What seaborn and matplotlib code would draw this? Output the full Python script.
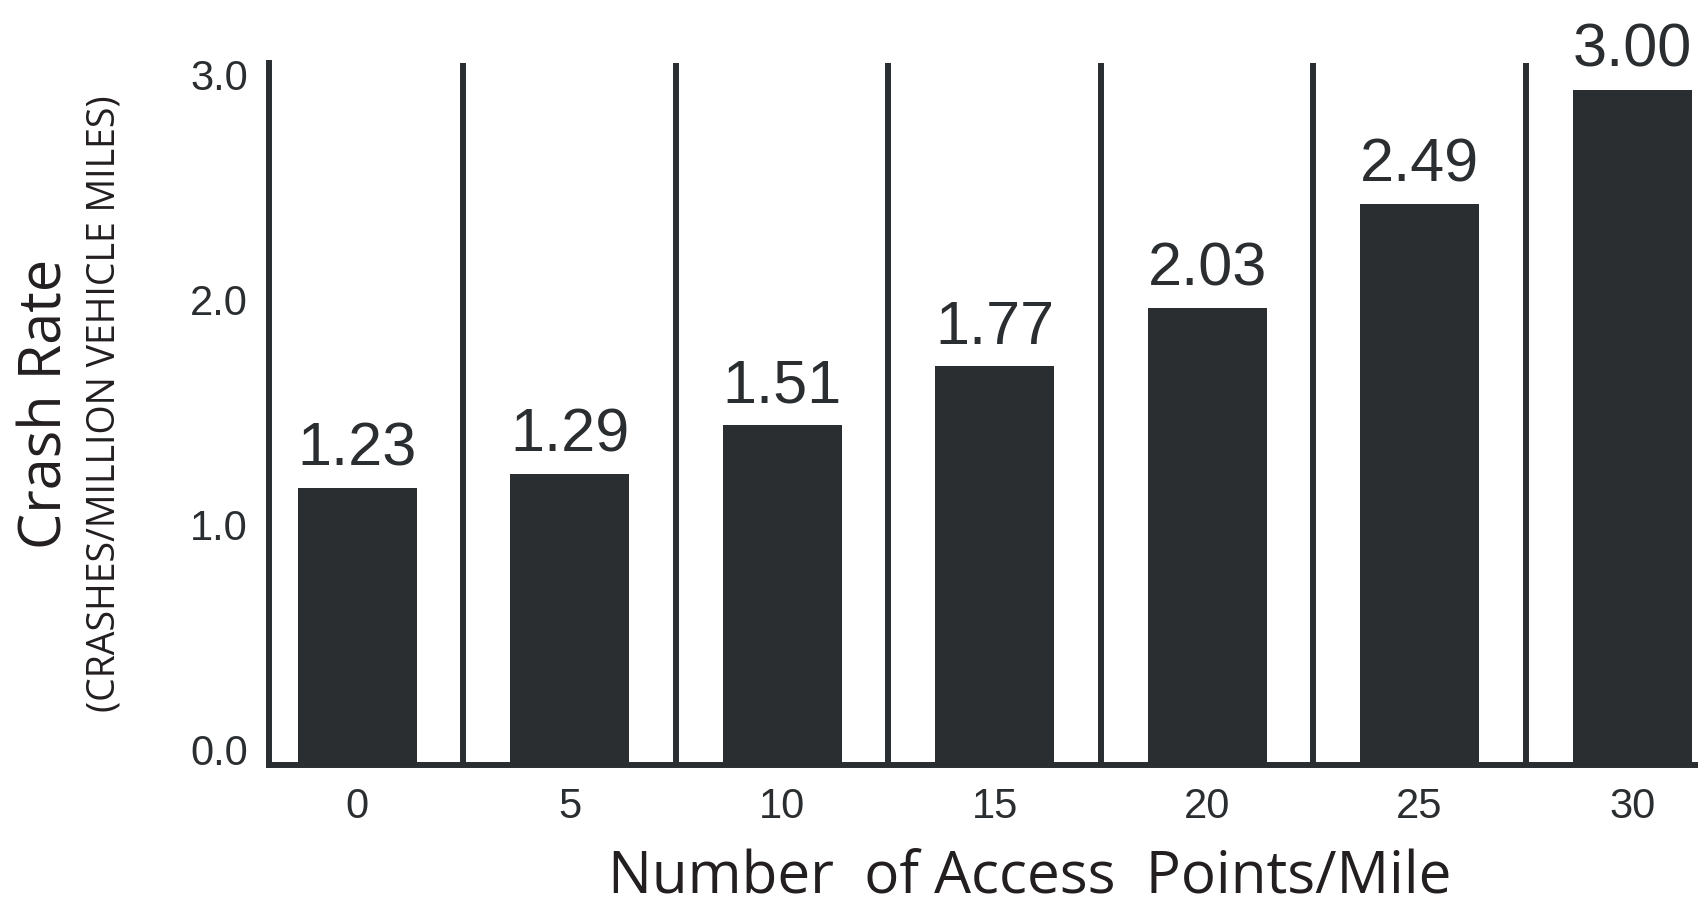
import matplotlib

matplotlib.use("Agg")
import matplotlib.pyplot as plt
import pandas as pd
import seaborn as sns

# --------------------------------------------------------------------------- #
# Data
# --------------------------------------------------------------------------- #
access_points = [0, 5, 10, 15, 20, 25, 30]
crash_rates = [1.23, 1.29, 1.51, 1.77, 2.03, 2.49, 3.00]
ytick_values = [0.0, 1.0, 2.0, 3.0]

x_label = "Number  of Access  Points/Mile"
y_label = "Crash Rate"
y_sublabel = "(CRASHES/MILLION VEHICLE MILES)"

INK = "#2b2e30"
TEXT = "#231f20"
NUM_FONT = ["Liberation Sans Narrow", "Liberation Sans", "DejaVu Sans"]
LABEL_FONT = ["Open Sans", "DejaVu Sans"]

sns.set_style("white")
plt.rcParams["font.family"] = LABEL_FONT

df = pd.DataFrame({"points": access_points, "rate": crash_rates})

fig = plt.figure(figsize=(16.98, 9.07), dpi=100)
ax = fig.add_axes([0.1582, 0.1571, 0.8418, 0.7734])

sns.barplot(data=df, x="points", y="rate", color=INK, saturation=1,
            width=0.56, linewidth=0, errorbar=None, ax=ax)

# thin dividers between the categories
for i in range(1, len(access_points)):
    ax.axvline(i - 0.5, color=INK, lw=4.3, solid_capstyle="butt", zorder=3)

ax.set_xlim(-0.416, 6.31)
ax.set_ylim(0, 3.118)

for side in ["top", "right"]:
    ax.spines[side].set_visible(False)
for side in ["left", "bottom"]:
    ax.spines[side].set_color(INK)
    ax.spines[side].set_linewidth(4.3)
    ax.spines[side].set_zorder(4)

ax.set_yticks(ytick_values)
ax.set_yticklabels([f"{v:.1f}" for v in ytick_values], family=NUM_FONT,
                   fontsize=30, color=INK, va="baseline")
ax.set_xticks(range(len(access_points)))
ax.set_xticklabels([str(p) for p in access_points], family=NUM_FONT,
                   fontsize=30, color=INK)
ax.tick_params(axis="y", length=0, pad=15)
ax.tick_params(axis="x", length=0, pad=16)

ax.bar_label(ax.containers[0], labels=[f"{v:.2f}" for v in crash_rates],
             padding=7, fontsize=44, family=NUM_FONT, color=INK)

ax.set_xlabel("")
ax.set_ylabel("")

fig.text(1030 / 1698, 13 / 907, x_label, ha="center", va="baseline",
         fontsize=42, color=TEXT)
fig.text(62 / 1698, 1 - 404 / 907, y_label, rotation=90, rotation_mode="anchor",
         ha="center", va="baseline", fontsize=41.5, color=TEXT)
fig.text(115 / 1698, 1 - 404 / 907, y_sublabel, rotation=90, rotation_mode="anchor",
         ha="center", va="baseline", fontsize=27, color=TEXT)

fig.savefig("out.png", dpi=100)
plt.close(fig)
